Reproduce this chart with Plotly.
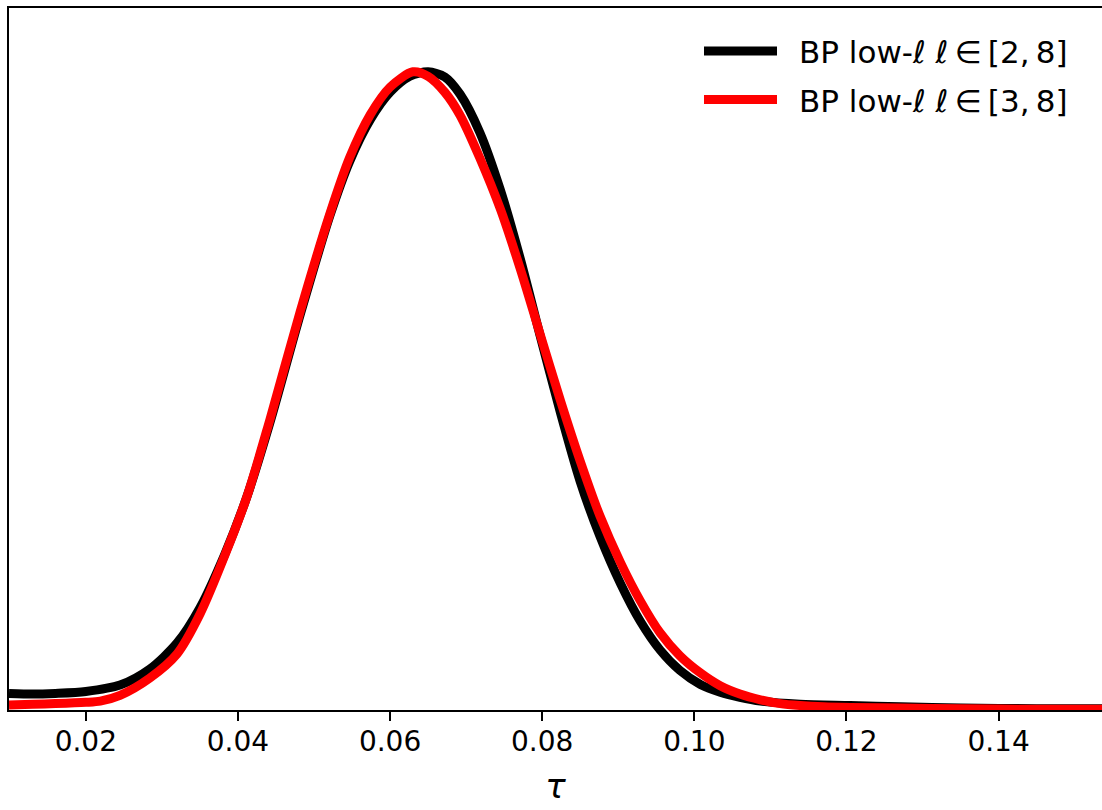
import plotly.graph_objects as go

# Posterior of tau, BP low-ell ell in [2, 8] (black)
tau_l2 = [0.0099, 0.0130, 0.0160, 0.0200, 0.0245, 0.0284, 0.0320, 0.0350, 0.0383, 0.0412,
          0.0442, 0.0482, 0.0521, 0.0547, 0.0574, 0.0600, 0.0626, 0.0650, 0.0672, 0.0692,
          0.0718, 0.0745, 0.0771, 0.0797, 0.0824, 0.0850, 0.0876, 0.0903, 0.0929, 0.0955,
          0.0981, 0.1008, 0.1034, 0.1060, 0.1087, 0.1139, 0.1205, 0.1271, 0.1350, 0.1450, 0.1540]
post_l2 = [0.026, 0.025, 0.026, 0.029, 0.039, 0.064, 0.105, 0.160, 0.245, 0.335,
           0.450, 0.620, 0.775, 0.860, 0.925, 0.968, 0.993, 1.000, 0.992, 0.965,
           0.905, 0.815, 0.708, 0.588, 0.466, 0.358, 0.272, 0.198, 0.139, 0.094,
           0.062, 0.040, 0.028, 0.020, 0.014, 0.009, 0.007, 0.005, 0.003, 0.002, 0.002]

# Posterior of tau, BP low-ell ell in [3, 8] (red)
tau_l3 = [0.0099, 0.0130, 0.0160, 0.0200, 0.0219, 0.0245, 0.0284, 0.0320, 0.0350, 0.0383,
          0.0412, 0.0442, 0.0482, 0.0521, 0.0547, 0.0574, 0.0600, 0.0630, 0.0650, 0.0672,
          0.0692, 0.0718, 0.0745, 0.0771, 0.0797, 0.0824, 0.0850, 0.0876, 0.0903, 0.0929,
          0.0955, 0.0981, 0.1008, 0.1034, 0.1060, 0.1087, 0.1113, 0.1139, 0.1170, 0.1205,
          0.1271, 0.1350, 0.1450, 0.1540]
post_l3 = [0.008, 0.009, 0.010, 0.012, 0.014, 0.023, 0.050, 0.088, 0.150, 0.243,
           0.335, 0.455, 0.625, 0.778, 0.866, 0.933, 0.976, 1.000, 0.993, 0.968,
           0.932, 0.865, 0.785, 0.692, 0.590, 0.485, 0.390, 0.304, 0.231, 0.171,
           0.121, 0.085, 0.058, 0.038, 0.025, 0.016, 0.010, 0.007, 0.005, 0.004,
           0.003, 0.002, 0.001, 0.001]

labels = ["BP low-<i>ℓ</i> <i>ℓ</i>\u2009∈\u2009[2,\u20098]",
          "BP low-<i>ℓ</i> <i>ℓ</i>\u2009∈\u2009[3,\u20098]"]
colors = ["#000000", "#ff0000"]

tick_vals = [0.02, 0.04, 0.06, 0.08, 0.10, 0.12, 0.14]
tick_text = ["0.02", "0.04", "0.06", "0.08", "0.10", "0.12", "0.14"]

FONT = "DejaVu Sans"
W, H = 1102, 810
ML, MR, MT, MB = 9, 0, 8, 100

fig = go.Figure()
for tx, py, c, name in [(tau_l2, post_l2, colors[0], labels[0]),
                        (tau_l3, post_l3, colors[1], labels[1])]:
    fig.add_trace(go.Scatter(x=tx, y=py, mode="lines", name=name,
                             line=dict(color=c, width=9, shape="spline", smoothing=0.8),
                             showlegend=False))

# manual legend (long line swatches as in the reference)
pw = W - ML - MR
ph = H - MT - MB
def px(x):
    return (x - ML) / pw
def py_(y):
    return (H - MB - y) / ph

for i, (c, lab) in enumerate(zip(colors, labels)):
    yc = 51 + i * 48.5
    fig.add_shape(type="line", xref="paper", yref="paper",
                  x0=px(704), x1=px(777), y0=py_(yc), y1=py_(yc),
                  line=dict(color=c, width=9))
    fig.add_annotation(xref="paper", yref="paper", x=px(797), y=py_(yc + 1),
                       xanchor="left", yanchor="middle", showarrow=False,
                       text=lab, font=dict(family=FONT, size=31, color="#000000"))

fig.update_layout(
    width=W, height=H,
    margin=dict(l=ML, r=MR, t=MT, b=MB),
    paper_bgcolor="white", plot_bgcolor="white",
    font=dict(family=FONT, color="#000000"),
    showlegend=False,
)
fig.update_xaxes(range=[0.0099, 0.1536], showgrid=False, zeroline=False,
                 showline=True, linecolor="#000000", linewidth=2, mirror=True,
                 ticks="outside", ticklen=9, tickwidth=2, tickcolor="#000000",
                 tickvals=tick_vals, ticktext=tick_text, ticklabelstandoff=-4,
                 tickfont=dict(family=FONT, size=28, color="#000000"),
                 title=dict(text="<i>τ</i>", font=dict(family=FONT, size=34, color="#000000"),
                            standoff=18))
fig.update_yaxes(range=[0, 1.1], showgrid=False, zeroline=False,
                 showline=True, linecolor="#000000", linewidth=2, mirror=False,
                 ticks="", showticklabels=False)

fig.write_html("out.html")
